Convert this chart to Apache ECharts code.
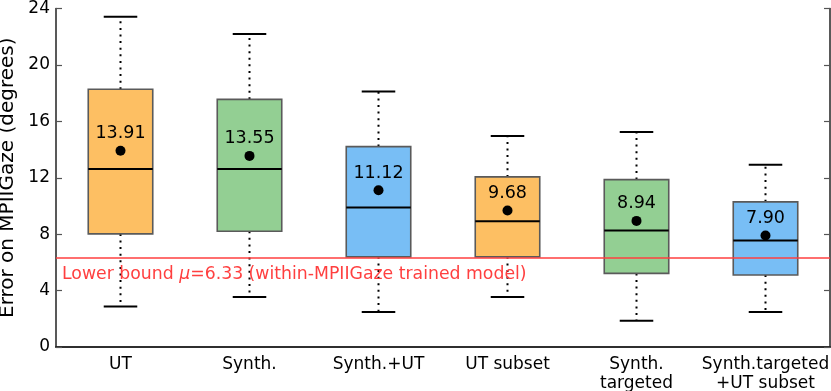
<!DOCTYPE html>
<html>
<head>
<meta charset="utf-8">
<script src="https://cdn.jsdelivr.net/npm/echarts@6/dist/echarts.min.js"></script>
<style>
html,body{margin:0;padding:0;background:#fff;}
#chart{width:831px;height:391px;}
</style>
</head>
<body>
<div id="chart"></div>
<script>
var categories = ['UT', 'Synth.', 'Synth.+UT', 'UT subset', 'Synth.\ntargeted', 'Synth.targeted\n+UT subset'];
var whiskerLow  = [2.88, 3.54, 2.48, 3.54, 1.86, 2.48];
var q1          = [8.02, 8.21, 6.39, 6.39, 5.22, 5.10];
var median      = [12.62, 12.62, 9.89, 8.92, 8.26, 7.55];
var q3          = [18.27, 17.56, 14.21, 12.06, 11.87, 10.29];
var whiskerHigh = [23.41, 22.20, 18.12, 14.96, 15.24, 12.93];
var means       = [13.91, 13.55, 11.12, 9.68, 8.94, 7.90];
var lowerBound  = 6.33;
var yTicks = [0, 4, 8, 12, 16, 20, 24];

var palette = ['#fdbf63', '#93cf93', '#78bef5'];
var FONT = 'DejaVu Sans';

var boxData = categories.map(function (c, i) {
  return [i, whiskerLow[i], q1[i], median[i], q3[i], whiskerHigh[i], means[i]];
});

var chart = echarts.init(document.getElementById('chart'), null, {renderer: 'canvas'});

function renderBox(params, api) {
  var i = api.value(0);
  var band = api.size([1, 0])[0];
  var bw = band * 0.5, cw = band * 0.26;
  var x = api.coord([i, 0])[0];
  var y = function (k) { return api.coord([i, api.value(k)])[1]; };
  var yLo = y(1), yQ1 = y(2), yMed = y(3), yQ3 = y(4), yHi = y(5), yMean = y(6);
  var color = palette[i % 3];
  var dotted = {stroke: '#000', lineWidth: 2, lineDash: [2, 4.6]};
  return {
    type: 'group',
    children: [
      {type: 'line', shape: {x1: x, y1: yQ3, x2: x, y2: yHi}, style: dotted},
      {type: 'line', shape: {x1: x, y1: yQ1, x2: x, y2: yLo}, style: dotted},
      {type: 'line', shape: {x1: x - cw / 2, y1: yHi, x2: x + cw / 2, y2: yHi}, style: {stroke: '#000', lineWidth: 2}},
      {type: 'line', shape: {x1: x - cw / 2, y1: yLo, x2: x + cw / 2, y2: yLo}, style: {stroke: '#000', lineWidth: 2}},
      {type: 'rect', shape: {x: x - bw / 2, y: yQ3, width: bw, height: yQ1 - yQ3},
        style: {fill: color, stroke: '#5a5a5a', lineWidth: 1.6}},
      {type: 'line', shape: {x1: x - bw / 2, y1: yMed, x2: x + bw / 2, y2: yMed}, style: {stroke: '#000', lineWidth: 2}},
      {type: 'circle', shape: {cx: x, cy: yMean, r: 5}, style: {fill: '#000'}},
      {type: 'text', x: x, y: yMean - 17,
        style: {text: api.value(6).toFixed(2), fill: '#000', font: '17.5px "' + FONT + '"',
          align: 'center', verticalAlign: 'middle'}}
    ]
  };
}

var option = {
  backgroundColor: '#fff',
  animation: false,
  textStyle: {fontFamily: FONT},
  grid: {left: 56, right: 1, top: 8.5, bottom: 44, containLabel: false, outerBoundsMode: 'none'},
  xAxis: [
    {
      type: 'category', data: categories, position: 'bottom',
      axisLine: {lineStyle: {color: '#222', width: 1.5}},
      axisTick: {inside: true, alignWithLabel: true, length: 6, lineStyle: {color: '#555', width: 1.2}},
      axisLabel: {color: '#000', fontSize: 17, fontFamily: FONT, margin: 8, lineHeight: 19, interval: 0, hideOverlap: false}
    },
    {
      type: 'category', data: categories, position: 'top',
      axisLine: {lineStyle: {color: '#222', width: 1.5}},
      axisTick: {inside: true, alignWithLabel: true, length: 6, lineStyle: {color: '#555', width: 1.2}},
      axisLabel: {show: false}
    }
  ],
  yAxis: [
    {
      type: 'value', min: 0, max: 24, interval: 4, position: 'left',
      name: 'Error on MPIIGaze (degrees)', nameLocation: 'middle', nameGap: 32,
      nameTextStyle: {color: '#000', fontSize: 20, fontFamily: FONT},
      axisLine: {show: true, lineStyle: {color: '#222', width: 1.5}},
      axisTick: {show: true, inside: true, length: 6, lineStyle: {color: '#555', width: 1.2}},
      axisLabel: {color: '#000', fontSize: 17, fontFamily: FONT, margin: 6,
        formatter: function (v) { return yTicks.indexOf(v) >= 0 ? String(v) : ''; }},
      splitLine: {show: false}
    },
    {
      type: 'value', min: 0, max: 24, interval: 4, position: 'right',
      axisLine: {show: true, lineStyle: {color: '#222', width: 1.5}},
      axisTick: {show: true, inside: true, length: 6, lineStyle: {color: '#555', width: 1.2}},
      axisLabel: {show: false},
      splitLine: {show: false}
    }
  ],
  series: [
    {
      type: 'custom', xAxisIndex: 0, yAxisIndex: 0, z: 2,
      renderItem: renderBox,
      encode: {x: 0, y: [1, 2, 3, 4, 5, 6]},
      data: boxData
    },
    {
      type: 'line', xAxisIndex: 0, yAxisIndex: 0, z: 5, data: [],
      markLine: {
        silent: true, symbol: 'none', animation: false,
        lineStyle: {color: '#ff3f3f', width: 1.5, type: 'solid'},
        label: {
          position: 'insideStartBottom', distance: [6, 8],
          formatter: '{n|Lower bound }{m|μ}{n|=' + lowerBound.toFixed(2) + ' (within-MPIIGaze trained model)}',
          rich: {
            n: {color: '#ff3f3f', fontSize: 17.3, fontFamily: FONT},
            m: {color: '#ff3f3f', fontSize: 17.3, fontFamily: FONT, fontStyle: 'italic'}
          }
        },
        data: [{yAxis: lowerBound}]
      }
    }
  ]
};
chart.setOption(option);
</script>
</body>
</html>
